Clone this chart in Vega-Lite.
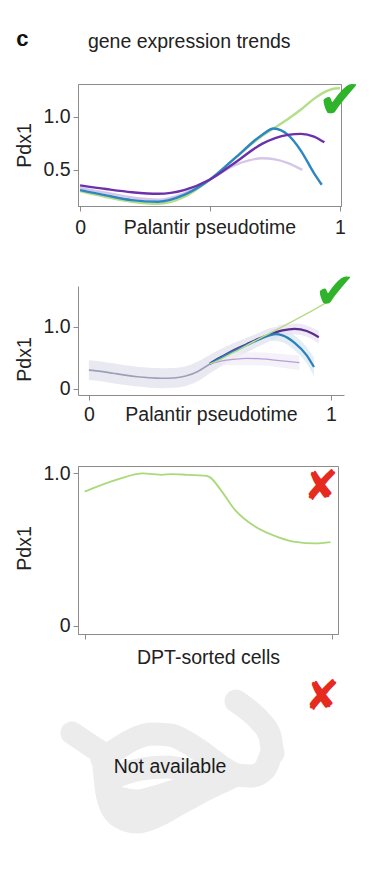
{
  "$schema": "https://vega.github.io/schema/vega-lite/v6.json",
  "padding": {"left": 14, "top": 27, "right": 0, "bottom": 0},
  "bounds": "flush",
  "spacing": 0,
  "config": {
    "font": "Liberation Sans",
    "view": {"stroke": null},
    "axis": {"domainColor": "#8c8c8c", "tickColor": "#8c8c8c", "tickSize": 5, "labelFont": "Liberation Sans", "titleFont": "Liberation Sans", "labelFontSize": 19.5, "titleFontSize": 19.5, "labelColor": "#222222", "titleColor": "#222222", "titleFontWeight": "normal", "grid": false, "labelFlush": false, "labelOverlap": false, "labelBound": false}
  },
  "resolve": {"scale": {"x": "independent", "y": "independent", "color": "independent"}},
  "datasets": {
    "bands2": [
      {"s": "trunk", "x": 0.0, "lo": 0.14, "hi": 0.46}, {"s": "trunk", "x": 0.05, "lo": 0.12, "hi": 0.44}, {"s": "trunk", "x": 0.1, "lo": 0.09, "hi": 0.41}, {"s": "trunk", "x": 0.15, "lo": 0.06, "hi": 0.38}, {"s": "trunk", "x": 0.2, "lo": 0.035, "hi": 0.355}, {"s": "trunk", "x": 0.25, "lo": 0.018, "hi": 0.338}, {"s": "trunk", "x": 0.3, "lo": 0.01, "hi": 0.33}, {"s": "trunk", "x": 0.35, "lo": 0.015, "hi": 0.335}, {"s": "trunk", "x": 0.4, "lo": 0.045, "hi": 0.365}, {"s": "trunk", "x": 0.45, "lo": 0.12, "hi": 0.44}, {"s": "trunk", "x": 0.5, "lo": 0.25, "hi": 0.55}, {"s": "trunk", "x": 0.55, "lo": 0.37, "hi": 0.65}, {"s": "trunk", "x": 0.6, "lo": 0.48, "hi": 0.74}, {"s": "trunk", "x": 0.65, "lo": 0.58, "hi": 0.82}, {"s": "trunk", "x": 0.7, "lo": 0.68, "hi": 0.9}, {"s": "trunk", "x": 0.75, "lo": 0.77, "hi": 0.98}, {"s": "trunk", "x": 0.78, "lo": 0.82, "hi": 1.0},
      {"s": "blue", "x": 0.75, "lo": 0.78, "hi": 0.95}, {"s": "blue", "x": 0.8, "lo": 0.75, "hi": 0.96}, {"s": "blue", "x": 0.85, "lo": 0.62, "hi": 0.86}, {"s": "blue", "x": 0.9, "lo": 0.41, "hi": 0.67}, {"s": "blue", "x": 0.93, "lo": 0.2, "hi": 0.5},
      {"s": "purple", "x": 0.78, "lo": 0.83, "hi": 1.02}, {"s": "purple", "x": 0.85, "lo": 0.88, "hi": 1.05}, {"s": "purple", "x": 0.9, "lo": 0.84, "hi": 1.02}, {"s": "purple", "x": 0.95, "lo": 0.73, "hi": 0.93},
      {"s": "lav", "x": 0.55, "lo": 0.38, "hi": 0.54}, {"s": "lav", "x": 0.6, "lo": 0.38, "hi": 0.57}, {"s": "lav", "x": 0.7, "lo": 0.38, "hi": 0.59}, {"s": "lav", "x": 0.8, "lo": 0.34, "hi": 0.56}, {"s": "lav", "x": 0.87, "lo": 0.3, "hi": 0.54}
    ],
    "lines2": [
      {"s": "trunk", "x": 0.0, "y": 0.3}, {"s": "trunk", "x": 0.05, "y": 0.28}, {"s": "trunk", "x": 0.1, "y": 0.25}, {"s": "trunk", "x": 0.15, "y": 0.22}, {"s": "trunk", "x": 0.2, "y": 0.195}, {"s": "trunk", "x": 0.25, "y": 0.178}, {"s": "trunk", "x": 0.3, "y": 0.17}, {"s": "trunk", "x": 0.35, "y": 0.175}, {"s": "trunk", "x": 0.4, "y": 0.205}, {"s": "trunk", "x": 0.45, "y": 0.28}, {"s": "trunk", "x": 0.5, "y": 0.4}, {"s": "trunk", "x": 0.55, "y": 0.51},
      {"s": "lav", "x": 0.5, "y": 0.4}, {"s": "lav", "x": 0.55, "y": 0.45}, {"s": "lav", "x": 0.6, "y": 0.475}, {"s": "lav", "x": 0.65, "y": 0.49}, {"s": "lav", "x": 0.7, "y": 0.485}, {"s": "lav", "x": 0.75, "y": 0.47}, {"s": "lav", "x": 0.8, "y": 0.45}, {"s": "lav", "x": 0.87, "y": 0.42},
      {"s": "green", "x": 0.5, "y": 0.4}, {"s": "green", "x": 0.52, "y": 0.43}, {"s": "green", "x": 0.6, "y": 0.59}, {"s": "green", "x": 0.7, "y": 0.8}, {"s": "green", "x": 0.8, "y": 1.0}, {"s": "green", "x": 0.9, "y": 1.21}, {"s": "green", "x": 0.99, "y": 1.41},
      {"s": "blue", "x": 0.5, "y": 0.4}, {"s": "blue", "x": 0.55, "y": 0.51}, {"s": "blue", "x": 0.6, "y": 0.61}, {"s": "blue", "x": 0.65, "y": 0.7}, {"s": "blue", "x": 0.7, "y": 0.79}, {"s": "blue", "x": 0.75, "y": 0.865}, {"s": "blue", "x": 0.77, "y": 0.88}, {"s": "blue", "x": 0.8, "y": 0.86}, {"s": "blue", "x": 0.85, "y": 0.74}, {"s": "blue", "x": 0.9, "y": 0.54}, {"s": "blue", "x": 0.93, "y": 0.35},
      {"s": "purple", "x": 0.5, "y": 0.41}, {"s": "purple", "x": 0.55, "y": 0.52}, {"s": "purple", "x": 0.6, "y": 0.625}, {"s": "purple", "x": 0.65, "y": 0.715}, {"s": "purple", "x": 0.7, "y": 0.805}, {"s": "purple", "x": 0.75, "y": 0.88}, {"s": "purple", "x": 0.8, "y": 0.94}, {"s": "purple", "x": 0.85, "y": 0.965}, {"s": "purple", "x": 0.9, "y": 0.93}, {"s": "purple", "x": 0.95, "y": 0.83}
    ],
    "cloud": [
      {"seg": "arm", "i": 0, "u": 70, "v": 732}, {"seg": "arm", "i": 1, "u": 82, "v": 740}, {"seg": "arm", "i": 2, "u": 94, "v": 748}, {"seg": "arm", "i": 3, "u": 104, "v": 754},
      {"seg": "upper", "i": 0, "u": 100, "v": 758}, {"seg": "upper", "i": 1, "u": 115, "v": 748}, {"seg": "upper", "i": 2, "u": 132, "v": 738}, {"seg": "upper", "i": 3, "u": 150, "v": 733}, {"seg": "upper", "i": 4, "u": 168, "v": 734}, {"seg": "upper", "i": 5, "u": 186, "v": 742}, {"seg": "upper", "i": 6, "u": 204, "v": 754}, {"seg": "upper", "i": 7, "u": 220, "v": 766}, {"seg": "upper", "i": 8, "u": 234, "v": 774},
      {"seg": "lower", "i": 0, "u": 102, "v": 765}, {"seg": "lower", "i": 1, "u": 104, "v": 785}, {"seg": "lower", "i": 2, "u": 108, "v": 803}, {"seg": "lower", "i": 3, "u": 118, "v": 816}, {"seg": "lower", "i": 4, "u": 135, "v": 821}, {"seg": "lower", "i": 5, "u": 155, "v": 815}, {"seg": "lower", "i": 6, "u": 175, "v": 804}, {"seg": "lower", "i": 7, "u": 195, "v": 793}, {"seg": "lower", "i": 8, "u": 215, "v": 783}, {"seg": "lower", "i": 9, "u": 234, "v": 774},
      {"seg": "mid", "i": 0, "u": 115, "v": 775}, {"seg": "mid", "i": 1, "u": 140, "v": 768}, {"seg": "mid", "i": 2, "u": 165, "v": 766}, {"seg": "mid", "i": 3, "u": 190, "v": 771}, {"seg": "mid", "i": 4, "u": 215, "v": 778},
      {"seg": "fill", "i": 0, "u": 112, "v": 796}, {"seg": "fill", "i": 1, "u": 135, "v": 800}, {"seg": "fill", "i": 2, "u": 160, "v": 794}, {"seg": "fill", "i": 3, "u": 185, "v": 786},
      {"seg": "tail", "i": 0, "u": 234, "v": 774}, {"seg": "tail", "i": 1, "u": 250, "v": 775}, {"seg": "tail", "i": 2, "u": 263, "v": 768}, {"seg": "tail", "i": 3, "u": 271, "v": 752}, {"seg": "tail", "i": 4, "u": 268, "v": 735}, {"seg": "tail", "i": 5, "u": 258, "v": 720}, {"seg": "tail", "i": 6, "u": 245, "v": 708}, {"seg": "tail", "i": 7, "u": 234, "v": 700}
    ]
  },
  "vconcat": [
    {
      "width": 263, "height": 122,
      "view": {"stroke": "#8c8c8c"},
      "layer": [
        {
          "data": {"values": [
            {"s": "lav", "x": 0, "y": 0.33}, {"s": "lav", "x": 0.1, "y": 0.285}, {"s": "lav", "x": 0.2, "y": 0.24}, {"s": "lav", "x": 0.3, "y": 0.22}, {"s": "lav", "x": 0.4, "y": 0.28}, {"s": "lav", "x": 0.5, "y": 0.41}, {"s": "lav", "x": 0.6, "y": 0.55}, {"s": "lav", "x": 0.65, "y": 0.59}, {"s": "lav", "x": 0.7, "y": 0.61}, {"s": "lav", "x": 0.75, "y": 0.6}, {"s": "lav", "x": 0.8, "y": 0.565}, {"s": "lav", "x": 0.855, "y": 0.5},
            {"s": "green", "x": 0, "y": 0.3}, {"s": "green", "x": 0.1, "y": 0.245}, {"s": "green", "x": 0.2, "y": 0.2}, {"s": "green", "x": 0.3, "y": 0.18}, {"s": "green", "x": 0.4, "y": 0.245}, {"s": "green", "x": 0.5, "y": 0.41}, {"s": "green", "x": 0.6, "y": 0.62}, {"s": "green", "x": 0.7, "y": 0.82}, {"s": "green", "x": 0.75, "y": 0.9}, {"s": "green", "x": 0.8, "y": 0.98}, {"s": "green", "x": 0.85, "y": 1.07}, {"s": "green", "x": 0.9, "y": 1.17}, {"s": "green", "x": 0.95, "y": 1.245}, {"s": "green", "x": 0.98, "y": 1.268}, {"s": "green", "x": 1.0, "y": 1.27},
            {"s": "blue", "x": 0, "y": 0.31}, {"s": "blue", "x": 0.1, "y": 0.26}, {"s": "blue", "x": 0.2, "y": 0.215}, {"s": "blue", "x": 0.3, "y": 0.2}, {"s": "blue", "x": 0.4, "y": 0.265}, {"s": "blue", "x": 0.5, "y": 0.41}, {"s": "blue", "x": 0.6, "y": 0.62}, {"s": "blue", "x": 0.7, "y": 0.83}, {"s": "blue", "x": 0.745, "y": 0.89}, {"s": "blue", "x": 0.8, "y": 0.83}, {"s": "blue", "x": 0.85, "y": 0.68}, {"s": "blue", "x": 0.9, "y": 0.47}, {"s": "blue", "x": 0.93, "y": 0.36},
            {"s": "purple", "x": 0, "y": 0.355}, {"s": "purple", "x": 0.1, "y": 0.32}, {"s": "purple", "x": 0.2, "y": 0.29}, {"s": "purple", "x": 0.3, "y": 0.275}, {"s": "purple", "x": 0.4, "y": 0.31}, {"s": "purple", "x": 0.5, "y": 0.41}, {"s": "purple", "x": 0.6, "y": 0.575}, {"s": "purple", "x": 0.7, "y": 0.745}, {"s": "purple", "x": 0.8, "y": 0.83}, {"s": "purple", "x": 0.85, "y": 0.84}, {"s": "purple", "x": 0.9, "y": 0.815}, {"s": "purple", "x": 0.94, "y": 0.76}
          ]},
          "mark": {"type": "line", "strokeWidth": 2.4, "interpolate": "monotone"},
          "encoding": {
            "x": {"field": "x", "type": "quantitative", "scale": {"domain": [-0.008, 1.004], "nice": false, "zero": false},
              "axis": {"values": [0, 0.5, 1], "labelExpr": "datum.value == 0 ? '0' : (datum.value == 1 ? '1' : '')", "title": "Palantir pseudotime", "titleY": 27, "titleBaseline": "alphabetic", "labelBaseline": "alphabetic", "labelPadding": 22}},
            "y": {"field": "y", "type": "quantitative", "scale": {"domain": [0.16, 1.31], "nice": false, "zero": false},
              "axis": {"values": [0.5, 1.0], "format": ".1f", "title": "Pdx1", "titleX": -47.5, "titleY": 61, "titleBaseline": "alphabetic", "titleAngle": 270, "titleAlign": "center", "labelPadding": 3}},
            "color": {"field": "s", "type": "nominal", "scale": {"domain": ["lav", "green", "blue", "purple"], "range": ["#d5c6e8", "#b5de88", "#2b86c2", "#6c31aa"]}, "legend": null},
            "order": {"field": "x", "type": "quantitative"}
          }
        },
        {
          "data": {"values": [{}]},
          "mark": {"type": "text", "text": "c", "font": "Liberation Sans", "fontWeight": "bold", "fontSize": 22, "align": "left", "baseline": "alphabetic", "color": "#111111"},
          "encoding": {"x": {"datum": -0.246, "type": "quantitative"}, "y": {"datum": 1.668, "type": "quantitative"}}
        },
        {
          "data": {"values": [{}]},
          "mark": {"type": "text", "text": "gene expression trends", "fontSize": 19.5, "align": "left", "baseline": "alphabetic", "color": "#222222"},
          "encoding": {"x": {"datum": 0.03, "type": "quantitative"}, "y": {"datum": 1.651, "type": "quantitative"}}
        },
        {
          "data": {"values": [{}]},
          "mark": {"type": "text", "text": "✔", "font": "DejaVu Sans", "fontSize": 54, "align": "center", "baseline": "middle", "color": "#2fb32a"},
          "encoding": {"x": {"datum": 1.0, "type": "quantitative"}, "y": {"datum": 1.14, "type": "quantitative"}}
        }
      ]
    },
    {"width": 263, "height": 80, "data": {"values": [{}]}, "mark": {"type": "point", "opacity": 0}, "encoding": {}},
    {
      "width": 266, "height": 109,
      "layer": [
        {
          "data": {"name": "bands2"},
          "transform": [{"filter": "datum.s == 'trunk'"}],
          "mark": {"type": "area", "interpolate": "monotone", "color": "#e7e8ef", "opacity": 0.9},
          "encoding": {
            "x": {"field": "x", "type": "quantitative", "scale": {"domain": [-0.045, 1.054], "nice": false, "zero": false},
              "axis": {"values": [0, 1], "labelExpr": "datum.value == 0 ? '0' : '1'", "title": "Palantir pseudotime", "titleY": 25.5, "titleBaseline": "alphabetic", "labelBaseline": "alphabetic", "labelPadding": 20.5}},
            "y": {"field": "lo", "type": "quantitative", "scale": {"domain": [-0.1, 1.656], "nice": false, "zero": false},
              "axis": {"values": [0, 1], "labelExpr": "datum.value == 0 ? '0' : '1.0'", "title": "Pdx1", "titleX": -47.5, "titleY": 73, "titleBaseline": "alphabetic", "titleAngle": 270, "titleAlign": "center", "labelPadding": 3}},
            "y2": {"field": "hi"}
          }
        },
        {
          "data": {"name": "bands2"},
          "transform": [{"filter": "datum.s == 'lav'"}],
          "mark": {"type": "area", "interpolate": "monotone", "color": "#f1ebf6", "opacity": 0.7},
          "encoding": {"x": {"field": "x", "type": "quantitative"}, "y": {"field": "lo", "type": "quantitative"}, "y2": {"field": "hi"}}
        },
        {
          "data": {"name": "bands2"},
          "transform": [{"filter": "datum.s == 'blue'"}],
          "mark": {"type": "area", "interpolate": "monotone", "color": "#d6e5f1", "opacity": 0.7},
          "encoding": {"x": {"field": "x", "type": "quantitative"}, "y": {"field": "lo", "type": "quantitative"}, "y2": {"field": "hi"}}
        },
        {
          "data": {"name": "bands2"},
          "transform": [{"filter": "datum.s == 'purple'"}],
          "mark": {"type": "area", "interpolate": "monotone", "color": "#e8e0f1", "opacity": 0.7},
          "encoding": {"x": {"field": "x", "type": "quantitative"}, "y": {"field": "lo", "type": "quantitative"}, "y2": {"field": "hi"}}
        },
        {
          "data": {"name": "lines2"},
          "transform": [{"filter": "datum.s == 'trunk'"}],
          "mark": {"type": "line", "interpolate": "monotone", "color": "#9e9eb9", "strokeWidth": 1.6},
          "encoding": {"x": {"field": "x", "type": "quantitative"}, "y": {"field": "y", "type": "quantitative"}, "order": {"field": "x", "type": "quantitative"}}
        },
        {
          "data": {"name": "lines2"},
          "transform": [{"filter": "datum.s == 'lav'"}],
          "mark": {"type": "line", "interpolate": "monotone", "color": "#b89ed6", "strokeWidth": 1.3},
          "encoding": {"x": {"field": "x", "type": "quantitative"}, "y": {"field": "y", "type": "quantitative"}, "order": {"field": "x", "type": "quantitative"}}
        },
        {
          "data": {"name": "lines2"},
          "transform": [{"filter": "datum.s == 'purple'"}],
          "mark": {"type": "line", "interpolate": "monotone", "color": "#5b2d8e", "strokeWidth": 2.2},
          "encoding": {"x": {"field": "x", "type": "quantitative"}, "y": {"field": "y", "type": "quantitative"}, "order": {"field": "x", "type": "quantitative"}}
        },
        {
          "data": {"name": "lines2"},
          "transform": [{"filter": "datum.s == 'blue'"}],
          "mark": {"type": "line", "interpolate": "monotone", "color": "#2a80bb", "strokeWidth": 2.2},
          "encoding": {"x": {"field": "x", "type": "quantitative"}, "y": {"field": "y", "type": "quantitative"}, "order": {"field": "x", "type": "quantitative"}}
        },
        {
          "data": {"name": "lines2"},
          "transform": [{"filter": "datum.s == 'green'"}],
          "mark": {"type": "line", "interpolate": "monotone", "color": "#b6dc86", "strokeWidth": 1.4},
          "encoding": {"x": {"field": "x", "type": "quantitative"}, "y": {"field": "y", "type": "quantitative"}, "order": {"field": "x", "type": "quantitative"}}
        },
        {
          "data": {"values": [{}]},
          "mark": {"type": "text", "text": "✔", "font": "DejaVu Sans", "fontSize": 50, "align": "center", "baseline": "middle", "color": "#2fb32a"},
          "encoding": {"x": {"datum": 1.017, "type": "quantitative"}, "y": {"datum": 1.54, "type": "quantitative"}}
        }
      ]
    },
    {"width": 263, "height": 71, "data": {"values": [{}]}, "mark": {"type": "point", "opacity": 0}, "encoding": {}},
    {
      "width": 260, "height": 168,
      "view": {"stroke": "#8c8c8c"},
      "layer": [
        {
          "data": {"values": [
            {"x": 0, "y": 0.88}, {"x": 0.133, "y": 0.96}, {"x": 0.235, "y": 1.0}, {"x": 0.276, "y": 0.995}, {"x": 0.31, "y": 0.99}, {"x": 0.35, "y": 0.995}, {"x": 0.417, "y": 0.99}, {"x": 0.485, "y": 0.985}, {"x": 0.505, "y": 0.975}, {"x": 0.553, "y": 0.883}, {"x": 0.607, "y": 0.76}, {"x": 0.688, "y": 0.65}, {"x": 0.783, "y": 0.58}, {"x": 0.851, "y": 0.55}, {"x": 0.932, "y": 0.54}, {"x": 0.993, "y": 0.548}
          ]},
          "mark": {"type": "line", "strokeWidth": 1.8, "color": "#a9d97a", "interpolate": "monotone"},
          "encoding": {
            "x": {"field": "x", "type": "quantitative", "scale": {"domain": [-0.027, 1.023], "nice": false, "zero": false},
              "axis": {"values": [0, 1], "labels": false, "title": "DPT-sorted cells", "titleY": 29, "titleBaseline": "alphabetic"}},
            "y": {"field": "y", "type": "quantitative", "scale": {"domain": [-0.055, 1.048], "nice": false, "zero": false},
              "axis": {"values": [0, 1], "labelExpr": "datum.value == 0 ? '0' : '1.0'", "title": "Pdx1", "titleX": -47.5, "titleY": 82, "titleBaseline": "alphabetic", "titleAngle": 270, "titleAlign": "center", "labelPadding": 3}}
          }
        },
        {
          "data": {"values": [{}]},
          "mark": {"type": "text", "text": "✘", "font": "DejaVu Sans", "fontSize": 42, "align": "center", "baseline": "middle", "color": "#e62b1e"},
          "encoding": {"x": {"datum": 0.955, "type": "quantitative"}, "y": {"datum": 0.91, "type": "quantitative"}}
        }
      ]
    },
    {"width": 263, "height": 47, "data": {"values": [{}]}, "mark": {"type": "point", "opacity": 0}, "encoding": {}},
    {
      "width": 260, "height": 170,
      "layer": [
        {
          "data": {"name": "cloud"},
          "mark": {"type": "line", "strokeWidth": 23, "color": "#ececec", "strokeCap": "round", "strokeJoin": "round", "interpolate": "monotone"},
          "encoding": {
            "x": {"field": "u", "type": "quantitative", "scale": {"domain": [76, 336], "nice": false, "zero": false}, "axis": null},
            "y": {"field": "v", "type": "quantitative", "scale": {"domain": [680, 850], "reverse": true, "nice": false, "zero": false}, "axis": null},
            "detail": {"field": "seg"},
            "order": {"field": "i", "type": "quantitative"}
          }
        },
        {
          "data": {"values": [{}]},
          "mark": {"type": "text", "text": "Not available", "fontSize": 19.5, "align": "center", "baseline": "alphabetic", "color": "#1a1a1a"},
          "encoding": {"x": {"datum": 168, "type": "quantitative"}, "y": {"datum": 771.5, "type": "quantitative"}}
        },
        {
          "data": {"values": [{}]},
          "mark": {"type": "text", "text": "✘", "font": "DejaVu Sans", "fontSize": 42, "align": "center", "baseline": "middle", "color": "#e62b1e"},
          "encoding": {"x": {"datum": 320, "type": "quantitative"}, "y": {"datum": 696, "type": "quantitative"}}
        }
      ]
    }
  ]
}
